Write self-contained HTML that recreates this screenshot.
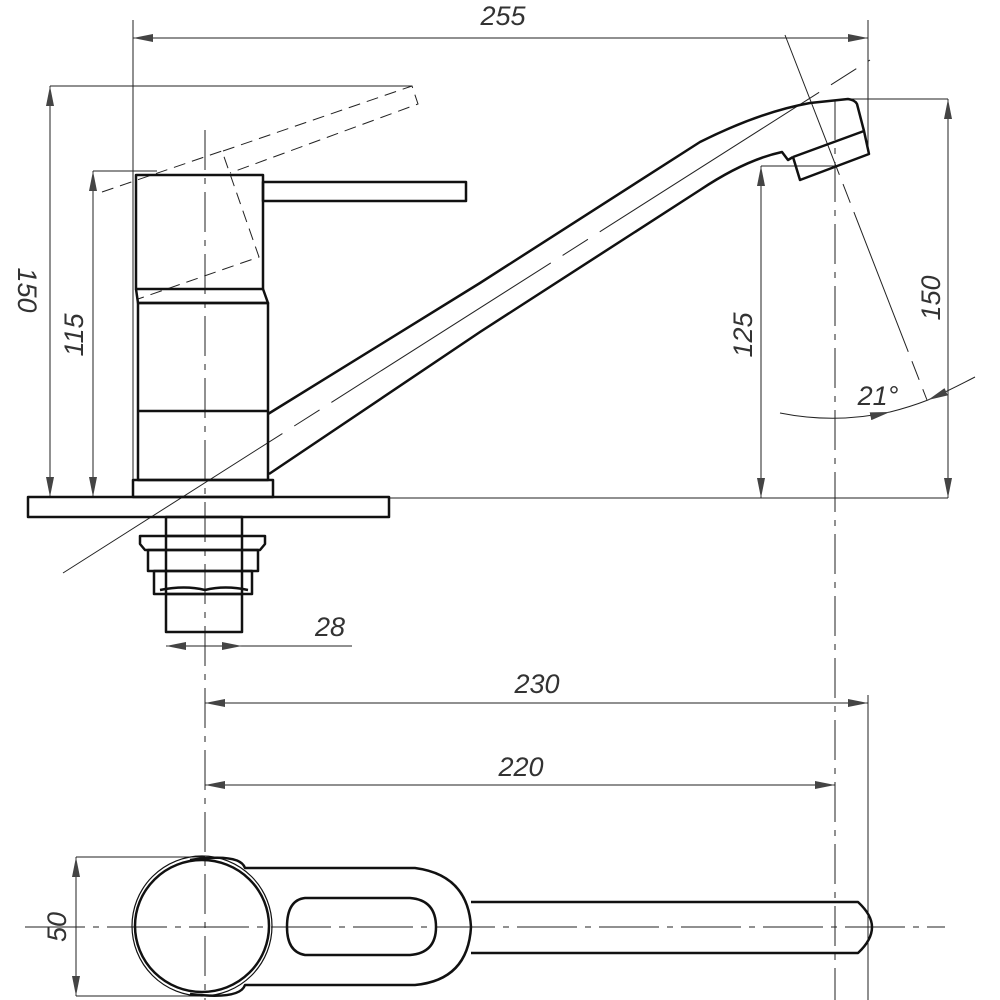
<!DOCTYPE html>
<html><head><meta charset="utf-8"><style>html,body{margin:0;padding:0;background:#fff}svg{display:block}</style></head><body>
<svg width="1000" height="1000" viewBox="0 0 1000 1000" xmlns="http://www.w3.org/2000/svg">
<defs>
<marker id="a" viewBox="0 0 20 8" refX="20" refY="4" markerWidth="20" markerHeight="8" markerUnits="userSpaceOnUse" orient="auto-start-reverse"><path d="M0,0 L20,4 L0,8 z" fill="#444"/></marker>
</defs>
<g fill="none" stroke="#222" stroke-width="1">
<line x1="133" y1="20" x2="133" y2="480"/>
<line x1="868" y1="20" x2="868" y2="150"/>
<line x1="868" y1="695" x2="868" y2="1000"/>
<line x1="133" y1="38" x2="868" y2="38" marker-start="url(#a)" marker-end="url(#a)"/>
<line x1="50" y1="86" x2="412" y2="86"/>
<line x1="50" y1="86" x2="50" y2="497" marker-start="url(#a)" marker-end="url(#a)"/>
<line x1="93" y1="171" x2="157" y2="171"/>
<line x1="93" y1="171" x2="93" y2="497" marker-start="url(#a)" marker-end="url(#a)"/>
<line x1="389" y1="498" x2="948" y2="498"/>
<line x1="761" y1="166" x2="835" y2="166"/>
<line x1="761" y1="166" x2="761" y2="498" marker-start="url(#a)" marker-end="url(#a)"/>
<line x1="848" y1="99" x2="948" y2="99"/>
<line x1="948" y1="99" x2="948" y2="498" marker-start="url(#a)" marker-end="url(#a)"/>
<line x1="166" y1="646" x2="352" y2="646"/>
<line x1="186" y1="646" x2="166" y2="646" marker-end="url(#a)"/>
<line x1="222" y1="646" x2="242" y2="646" marker-end="url(#a)"/>
<line x1="205" y1="703" x2="868" y2="703" marker-start="url(#a)" marker-end="url(#a)"/>
<line x1="205" y1="785" x2="835" y2="785" marker-start="url(#a)" marker-end="url(#a)"/>
<line x1="76" y1="857" x2="205" y2="857"/>
<line x1="76" y1="996" x2="205" y2="996"/>
<line x1="76" y1="857" x2="76" y2="996" marker-start="url(#a)" marker-end="url(#a)"/>
<line x1="785" y1="35" x2="927" y2="400" stroke-dasharray="150,10,20,10"/>
<line x1="63" y1="573" x2="870" y2="60" stroke-dasharray="260,14,30,14"/>
<path d="M780,413 Q835,424 890,412" marker-end="url(#a)"/>
<path d="M975,377 Q950,390 928,400" marker-end="url(#a)"/>
<path d="M890,412 Q910,407 928,400"/>
<line x1="205" y1="130" x2="205" y2="1000" stroke-dasharray="40,8,6,8"/>
<line x1="835" y1="100" x2="835" y2="1000" stroke-dasharray="40,8,6,8"/>
<line x1="25" y1="927" x2="945" y2="927" stroke-dasharray="60,8,6,8"/>
<g stroke-dasharray="12,7">
<path d="M102,192 L222,151 L259,257 L138,299"/>
<path d="M223,151 L412,86 L418,104 L230,173"/>
</g>
</g>
<g fill="none" stroke="#111" stroke-width="2.5" stroke-linejoin="round">
<rect x="136" y="175" width="127" height="114"/>
<rect x="263" y="182" width="203" height="19"/>
<path d="M136,289 L138,303 L268,303 L263,289"/>
<rect x="138" y="303" width="130" height="177"/>
<line x1="138" y1="411" x2="268" y2="411"/>
<rect x="133" y="480" width="140" height="17"/>
<rect x="28" y="497" width="361" height="20"/>
<rect x="166" y="517" width="76" height="19"/>
<path d="M140,536 L265,536 L265,544 L260,550 L145,550 L140,544 Z"/>
<rect x="148" y="550" width="110" height="21"/>
<path d="M154,571 L252,571 L252,594 L154,594 Z"/>
<path d="M160,590 Q185,585 205,590 Q225,585 248,590"/>
<rect x="166" y="594" width="76" height="38"/>
<line x1="166" y1="536" x2="166" y2="594"/>
<line x1="242" y1="536" x2="242" y2="594"/>
<path d="M268,414 L480,283 L700,142 Q760,112 810,103 L848,99 Q855,100 857,104 L864,131"/>
<path d="M269,474 L480,332 L700,190 Q745,160 782,152 L788,160 L793,157"/>
<path d="M793,157 L800,180 L869,154 L864,131 L793,157"/>
<ellipse cx="202" cy="926" rx="67" ry="66"/>
<ellipse cx="202" cy="926" rx="70" ry="70" stroke-width="1.2"/>
<path d="M190,860 Q240,853 245,868 L415,868 Q468,875 471,927 Q468,980 415,985 L245,985 Q240,1000 190,994" />
<path d="M305,898 L410,898 Q436,900 436,927 Q436,953 410,955 L305,955 Q287,952 287,927 Q287,900 305,898 Z"/>
<path d="M471,902 L858,902 Q872,915 872,927 Q872,940 858,953 L471,953"/>
</g>
<g font-family="Liberation Sans, sans-serif" font-style="italic" font-size="27" fill="#333">
<text x="503" y="25" text-anchor="middle">255</text>
<text x="330" y="636" text-anchor="middle">28</text>
<text x="537" y="693" text-anchor="middle">230</text>
<text x="521" y="776" text-anchor="middle">220</text>
<text x="878" y="405" text-anchor="middle">21°</text>
<text transform="translate(83,335) rotate(-90)" text-anchor="middle">115</text>
<text transform="translate(752,335) rotate(-90)" text-anchor="middle">125</text>
<text transform="translate(940,298) rotate(-90)" text-anchor="middle">150</text>
<text transform="translate(66,927) rotate(-90)" text-anchor="middle">50</text>
<text transform="translate(18,290) rotate(90)" text-anchor="middle">150</text>
</g>
</svg>
</body></html>
